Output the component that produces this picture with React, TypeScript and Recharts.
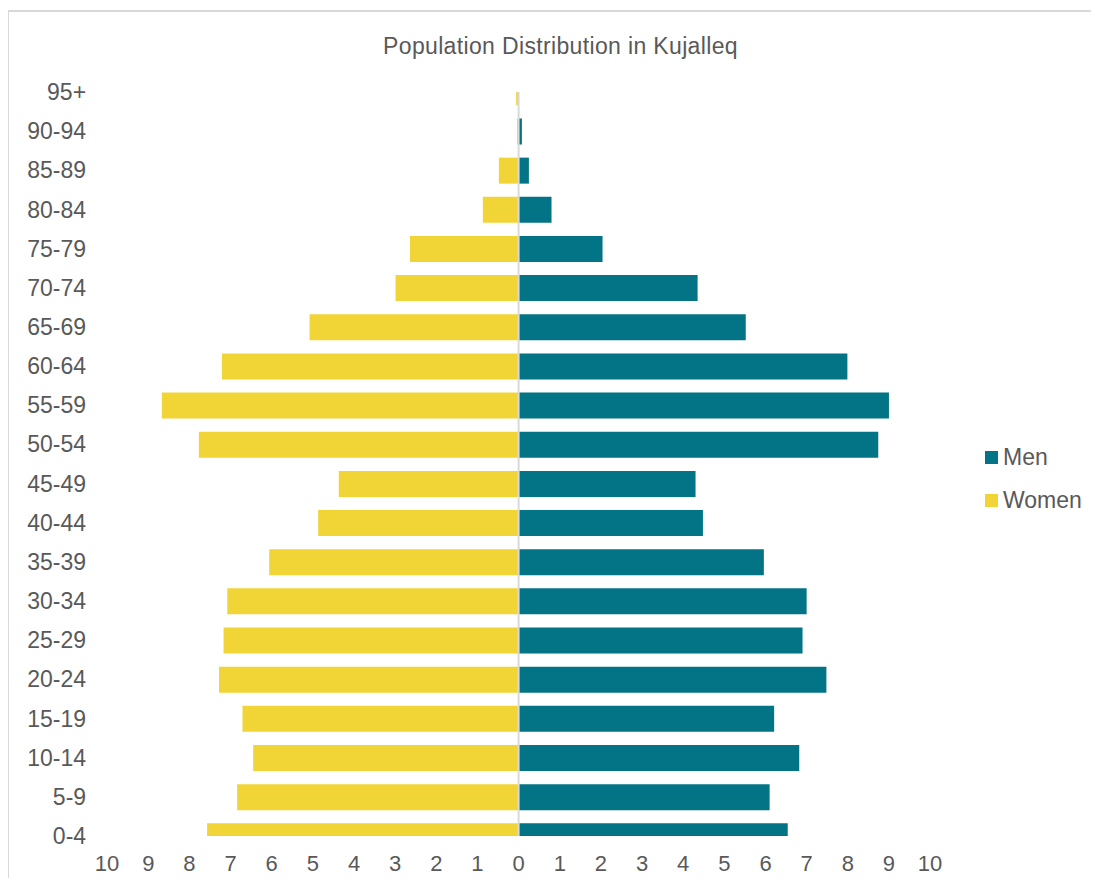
import React from 'react';
import { BarChart, Bar, XAxis, YAxis, ReferenceLine } from 'recharts';

const ageGroups = ['0-4', '5-9', '10-14', '15-19', '20-24', '25-29', '30-34', '35-39', '40-44', '45-49', '50-54', '55-59', '60-64', '65-69', '70-74', '75-79', '80-84', '85-89', '90-94', '95+'];
const men = [6.54, 6.1, 6.82, 6.21, 7.48, 6.9, 7.0, 5.96, 4.48, 4.3, 8.74, 9.0, 7.99, 5.52, 4.35, 2.04, 0.8, 0.25, 0.08, 0];
const women = [7.57, 6.84, 6.45, 6.71, 7.28, 7.17, 7.08, 6.06, 4.87, 4.37, 7.77, 8.67, 7.21, 5.08, 2.99, 2.64, 0.87, 0.48, 0.04, 0.06];
const xTicks = [-10, -9, -8, -7, -6, -5, -4, -3, -2, -1, 0, 1, 2, 3, 4, 5, 6, 7, 8, 9, 10];
const title = 'Population Distribution in Kujalleq';
const seriesNames = ['Men', 'Women'];
const colors = ['#037386', '#F1D537'];

const data = ageGroups.map((g, i) => ({ idx: i, group: g, men: men[i], women: -women[i] }));
const yTicks = ageGroups.map((_, i) => i);

const FONT = '"Liberation Sans", Arial, sans-serif';
const TEXT = '#595959';

export default function App() {
  return (
    <div style={{ position: 'relative', width: 1083, height: 870, fontFamily: FONT }}>
      <div style={{ position: 'absolute', left: -1, top: 2, width: 1092, height: 868, borderTop: '2px solid #D9D9D9', borderLeft: '2px solid #D9D9D9', boxSizing: 'border-box' }} />
      <div style={{ position: 'absolute', left: 0, top: 27, width: 1105, textAlign: 'center', fontSize: 23, lineHeight: '23px', letterSpacing: 0.35, color: TEXT }}>{title}</div>
      <div style={{ position: 'absolute', left: 0, top: 0 }}>
        <BarChart
          width={1083}
          height={870}
          data={data}
          layout="vertical"
          stackOffset="sign"
          margin={{ top: 83.9, right: 160.9, bottom: 12.1, left: 0 }}
        >
          <XAxis
            type="number"
            domain={[-10, 10]}
            ticks={xTicks}
            interval={0}
            allowDataOverflow
            tickFormatter={(v: number) => String(Math.abs(v))}
            axisLine={false}
            tickLine={false}
            tickSize={0}
            tickMargin={19}
            height={30}
            tick={{ fontSize: 22, fill: TEXT, fontFamily: FONT }}
          />
          <YAxis
            type="number"
            dataKey="idx"
            domain={[0, 19]}
            ticks={yTicks}
            interval={0}
            reversed
            allowDataOverflow
            tickFormatter={(v: number) => ageGroups[v]}
            axisLine={false}
            tickLine={false}
            tickSize={0}
            tickMargin={21}
            width={99.1}
            tick={{ fontSize: 23, fill: TEXT, fontFamily: FONT }}
          />
          <Bar dataKey="women" name={seriesNames[1]} stackId="a" fill={colors[1]} barSize={26} isAnimationActive={false} />
          <Bar dataKey="men" name={seriesNames[0]} stackId="a" fill={colors[0]} barSize={26} isAnimationActive={false} />
          <ReferenceLine x={0} stroke="#D9D9D9" strokeWidth={2} />
        </BarChart>
      </div>
      {seriesNames.map((name, i) => (
        <div key={name} style={{ position: 'absolute', left: 977, top: 437 + i * 43, height: 24, display: 'flex', alignItems: 'center', fontSize: 23, color: TEXT }}>
          <span style={{ display: 'inline-block', width: 13, height: 13, background: colors[i], marginRight: 5 }} />
          <span>{name}</span>
        </div>
      ))}
    </div>
  );
}
